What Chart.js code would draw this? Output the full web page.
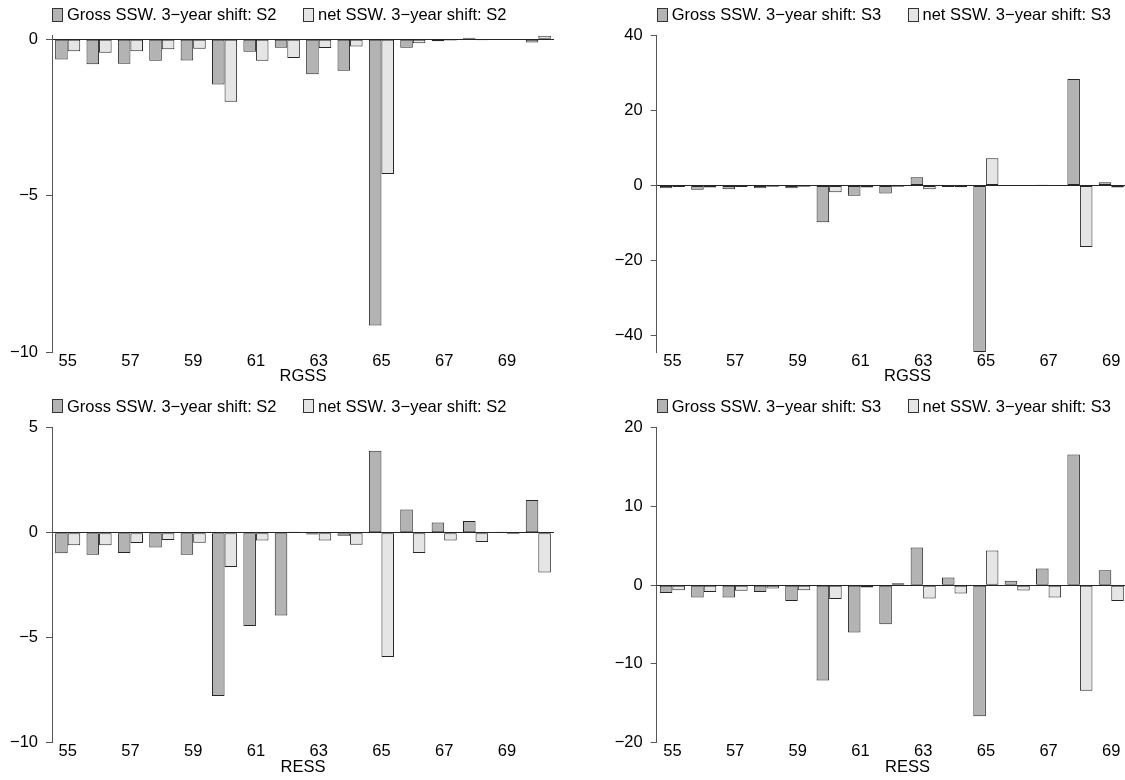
<!DOCTYPE html>
<html>
<head>
<meta charset="utf-8">
<script src="https://cdn.jsdelivr.net/npm/chart.js@4/dist/chart.umd.min.js"></script>
<style>
  html, body { margin: 0; padding: 0; background: #fff; }
  #wrap { position: relative; width: 1125px; height: 780px; overflow: hidden; }
  .panel { position: absolute; }
  .legend { position: absolute; height: 20px; display: flex; align-items: center; white-space: nowrap;
            font: 16.5px "Liberation Sans", Arial, sans-serif; color: #000; }
  .legend i { display: inline-block; width: 9px; height: 12px; border: 1px solid #333; margin-right: 4px; }
</style>
</head>
<body>
<div id="wrap"></div>
<script>
"use strict";

// Data
const ages = ["55", "56", "57", "58", "59", "60", "61", "62", "63", "64", "65", "66", "67", "68", "69", "70"];
const xTickLabels = ["55", "57", "59", "61", "63", "65", "67", "69"];

const rgssGrossS2 = [-0.65, -0.8, -0.78, -0.69, -0.68, -1.45, -0.4, -0.27, -1.12, -1.01, -9.15, -0.27, -0.06, 0.05, 0.02, -0.1];
const rgssNetS2 = [-0.38, -0.43, -0.38, -0.32, -0.3, -2.0, -0.69, -0.6, -0.28, -0.23, -4.31, -0.13, -0.04, -0.03, -0.01, 0.11];
const rgssGrossS3 = [-0.7, -1.1, -1.0, -0.7, -0.7, -9.8, -2.7, -2.1, 2.2, -0.4, -44.4, -0.15, 0.2, 28.4, 0.85, null];
const rgssNetS3 = [-0.4, -0.5, -0.4, -0.35, -0.35, -1.8, -0.5, -0.3, -1.0, -0.45, 7.3, -0.15, -0.15, -16.4, -0.55, null];
const ressGrossS2 = [-0.98, -1.05, -0.97, -0.71, -1.05, -7.78, -4.44, -3.94, -0.08, -0.14, 3.9, 1.11, 0.48, 0.56, 0.05, 1.56];
const ressNetS2 = [-0.6, -0.6, -0.49, -0.35, -0.48, -1.63, -0.37, 0.05, -0.37, -0.57, -5.92, -0.97, -0.37, -0.44, -0.06, -1.89];
const ressGrossS3 = [-1.0, -1.57, -1.57, -0.85, -2.0, -12.1, -6.0, -4.96, 4.79, 0.97, -16.65, 0.55, 2.12, 16.6, 1.9, null];
const ressNetS3 = [-0.64, -0.85, -0.72, -0.42, -0.64, -1.74, -0.3, 0.25, -1.69, -1.06, 4.4, -0.68, -1.57, -13.4, -2.0, null];

const grossLabelS2 = "Gross SSW. 3\u2212year shift: S2";
const netLabelS2 = "net SSW. 3\u2212year shift: S2";
const grossLabelS3 = "Gross SSW. 3\u2212year shift: S3";
const netLabelS3 = "net SSW. 3\u2212year shift: S3";

const ticksRgssS2 = [0, -5, -10];
const ticksRgssS3 = [40, 20, 0, -20, -40];
const ticksRessS2 = [5, 0, -5, -10];
const ticksRessS3 = [20, 10, 0, -10, -20];

// Styles
const grossColor = "#b3b3b3";
const netColor = "#e5e5e5";
const lineColor = "#262626";
const axisColor = "#555555";
const fontFamily = '"Liberation Sans", Arial, sans-serif';

Chart.defaults.font.family = fontFamily;
Chart.defaults.font.size = 16.5;
Chart.defaults.color = "#000";

const panels = [
  { left: 0, top: 0, width: 560, height: 390, area: { left: 52, right: 554, top: 35.5, bottom: 352 }, legendY: 14.7,
    gross: rgssGrossS2, net: rgssNetS2, grossLabel: grossLabelS2, netLabel: netLabelS2,
    yTicks: ticksRgssS2, yMin: -10, yMax: 0.12, xTitle: "RGSS" },
  { left: 560, top: 0, width: 610, height: 390, area: { left: 96.7, right: 598.3, top: 35.5, bottom: 352 }, legendY: 14.7,
    gross: rgssGrossS3, net: rgssNetS3, grossLabel: grossLabelS3, netLabel: netLabelS3,
    yTicks: ticksRgssS3, yMin: -44.4, yMax: 40, xTitle: "RGSS" },
  { left: 0, top: 390, width: 560, height: 390, area: { left: 52, right: 554, top: 37.7, bottom: 352.7 }, legendY: 16,
    gross: ressGrossS2, net: ressNetS2, grossLabel: grossLabelS2, netLabel: netLabelS2,
    yTicks: ticksRessS2, yMin: -10, yMax: 5, xTitle: "RESS" },
  { left: 560, top: 390, width: 610, height: 390, area: { left: 96.7, right: 598.3, top: 37.7, bottom: 352.7 }, legendY: 16,
    gross: ressGrossS3, net: ressNetS3, grossLabel: grossLabelS3, netLabel: netLabelS3,
    yTicks: ticksRessS3, yMin: -20, yMax: 20, xTitle: "RESS" },
];

const xAxisHeight = 34.4;
const wrap = document.getElementById("wrap");

const formatTick = (v) => (v < 0 ? "\u2212" + Math.abs(v) : String(v));

function addLegend(panel, datasets) {
  const centre = (panel.area.left + panel.area.right) / 2;
  const starts = [panel.area.left, centre];
  datasets.forEach((ds, i) => {
    const item = document.createElement("div");
    item.className = "legend";
    item.style.left = panel.left + starts[i] + "px";
    item.style.top = panel.top + panel.legendY - 10 + "px";
    const box = document.createElement("i");
    box.style.background = ds.backgroundColor;
    item.appendChild(box);
    item.appendChild(document.createTextNode(ds.label));
    wrap.appendChild(item);
  });
}

panels.forEach((panel) => {
  const holder = document.createElement("div");
  holder.className = "panel";
  holder.style.left = panel.left + "px";
  holder.style.top = panel.top + "px";
  const canvas = document.createElement("canvas");
  canvas.width = panel.width;
  canvas.height = panel.height;
  holder.appendChild(canvas);
  wrap.appendChild(holder);

  const datasets = [
    { label: panel.grossLabel, data: panel.gross, backgroundColor: grossColor },
    { label: panel.netLabel, data: panel.net, backgroundColor: netColor },
  ];
  datasets.forEach((ds) => {
    ds.borderColor = lineColor;
    ds.borderWidth = 1;
    ds.borderSkipped = false;
    ds.categoryPercentage = 0.8;
    ds.barPercentage = 1.0;
  });

  new Chart(canvas.getContext("2d"), {
    type: "bar",
    data: { labels: ages, datasets },
    options: {
      responsive: false,
      animation: false,
      devicePixelRatio: 1,
      layout: {
        padding: {
          left: 0,
          top: panel.area.top,
          right: panel.width - panel.area.right,
          bottom: panel.height - panel.area.bottom - xAxisHeight,
        },
      },
      plugins: { legend: { display: false }, tooltip: { enabled: false } },
      scales: {
        x: {
          offset: true,
          grid: { display: false, drawTicks: false },
          border: { display: false },
          ticks: {
            autoSkip: false,
            maxRotation: 0,
            padding: 0,
            font: { lineHeight: 1.1 },
            callback: function (value) {
              const label = this.getLabelForValue(value);
              return xTickLabels.includes(label) ? label : "";
            },
          },
          title: { display: true, text: panel.xTitle, padding: 0 },
          afterFit: (scale) => {
            scale.height = xAxisHeight;
          },
        },
        y: {
          min: panel.yMin,
          max: panel.yMax,
          border: { display: true, color: axisColor, width: 1 },
          grid: {
            drawOnChartArea: true,
            drawTicks: true,
            tickLength: 6,
            tickColor: axisColor,
            color: (ctx) => (ctx.tick && ctx.tick.value === 0 ? lineColor : "rgba(0,0,0,0)"),
          },
          ticks: { padding: 8, callback: (v) => formatTick(v) },
          afterBuildTicks: (scale) => {
            scale.ticks = panel.yTicks.map((v) => ({ value: v }));
          },
          afterFit: (scale) => {
            scale.width = panel.area.left;
          },
        },
      },
    },
  });

  addLegend(panel, datasets);
});
</script>
</body>
</html>
